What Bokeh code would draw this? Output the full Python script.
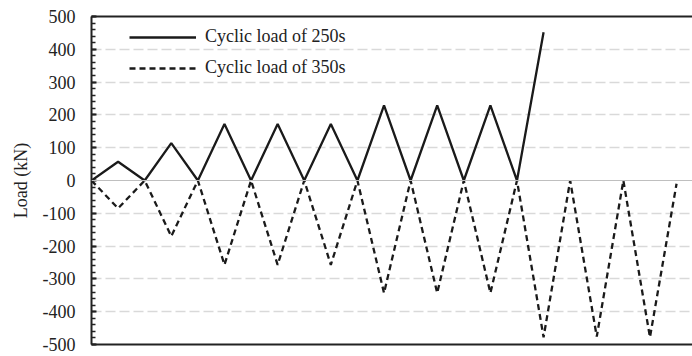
from bokeh.plotting import figure
from bokeh.models import (Range1d, SingleIntervalTicker, LinearAxis, Legend, LegendItem,
                          Span, FixedTicker, PrintfTickFormatter)
from bokeh.embed import file_html
from bokeh.resources import INLINE

# data
step_250 = list(range(18))
load_250 = [0, 57, 0, 114, 0, 172, 0, 172, 0, 172, 0, 229, 0, 229, 0, 229, 0, 452]
step_350 = list(range(23))
load_350 = [0, -85, 0, -170, 0, -257, 0, -257, 0, -257, 0, -343, 0, -343, 0, -343,
            0, -478, 0, -476, 0, -478, -10]
y_label = "Load (kN)"
legend_labels = ["Cyclic load of 250s", "Cyclic load of 350s"]

FONT = "Liberation Serif"

p = figure(width=692, height=356, output_backend="svg", toolbar_location=None,
           x_range=Range1d(0, 22.6), y_range=Range1d(-500, 500),
           min_border_left=91, min_border_right=0, min_border_top=16, min_border_bottom=12,
           x_axis_location="below")
p.outline_line_color = None
p.background_fill_color = "white"
p.border_fill_color = "white"

# grid
p.xgrid.visible = False
p.ygrid.ticker = FixedTicker(ticks=[-400, -300, -200, -100, 100, 200, 300, 400])
p.ygrid.grid_line_color = "#d9d9d9"
p.ygrid.grid_line_width = 1.5
p.ygrid.grid_line_dash = "10 4"
p.add_layout(Span(location=0, dimension="width", line_color="#bfbfbf", line_width=1.2))

# y axis
ya = p.yaxis[0]
ya.ticker = SingleIntervalTicker(interval=100, num_minor_ticks=5)
ya.formatter = PrintfTickFormatter(format="%d")
ya.axis_label = y_label
ya.axis_label_text_font = FONT
ya.axis_label_text_font_size = "18px"
ya.axis_label_text_font_style = "normal"
ya.axis_label_text_color = "#222222"
ya.axis_label_standoff = 9
ya.major_label_text_font = FONT
ya.major_label_text_font_size = "18px"
ya.major_label_text_color = "#222222"
ya.major_label_standoff = 16
ya.major_tick_in = 5
ya.major_tick_out = 0
ya.minor_tick_in = 4
ya.minor_tick_out = 0
ya.axis_line_color = "#222222"
ya.axis_line_width = 2
ya.major_tick_line_color = "#222222"
ya.major_tick_line_width = 2
ya.minor_tick_line_color = "#222222"
ya.minor_tick_line_width = 1.5

# x axis (bottom border only)
xa = p.xaxis[0]
xa.ticker = FixedTicker(ticks=[])
xa.major_label_text_font_size = "0px"
xa.major_label_standoff = 0
xa.major_tick_in = 0
xa.major_tick_out = 0
xa.minor_tick_in = 0
xa.minor_tick_out = 0
xa.axis_line_color = "#222222"
xa.axis_line_width = 2

# top border
top = LinearAxis(ticker=FixedTicker(ticks=[]), major_label_text_font_size="0px",
                 major_label_standoff=0, major_tick_in=0, major_tick_out=0,
                 minor_tick_in=0, minor_tick_out=0,
                 axis_line_color="#222222", axis_line_width=2)
p.add_layout(top, "above")

r1 = p.line(step_250, load_250, line_color="#1a1a1a", line_width=2.3)
r2 = p.line(step_350, load_350, line_color="#1a1a1a", line_width=2.3, line_dash="6 4")

legend = Legend(items=[LegendItem(label=legend_labels[0], renderers=[r1]),
                       LegendItem(label=legend_labels[1], renderers=[r2])],
                location=(38, 266), orientation="vertical",
                glyph_width=67, glyph_height=20, label_standoff=9, spacing=10,
                padding=8, margin=0,
                label_text_font=FONT, label_text_font_size="18px",
                label_text_color="#222222",
                border_line_color=None, background_fill_alpha=0)
p.add_layout(legend, "center")

open("out.html", "w").write(file_html(p, INLINE))
